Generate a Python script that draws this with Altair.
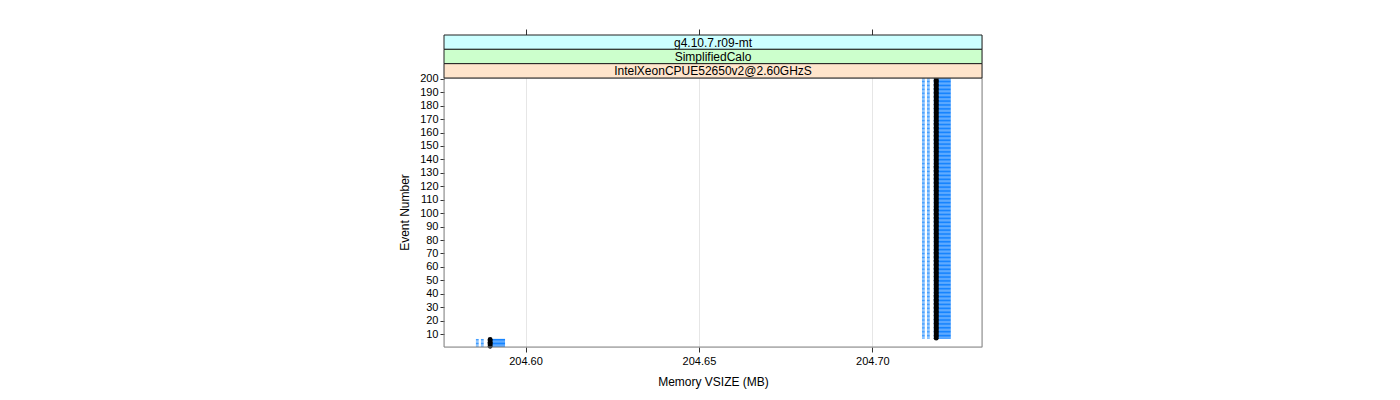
import altair as alt
import pandas as pd

# ---- data ----
strip_labels = ["g4.10.7.r09-mt", "SimplifiedCalo", "IntelXeonCPUE52650v2@2.60GHzS"]
strip_colors = ["#ccffff", "#ccffcc", "#ffe5cc"]

cluster_first_event = [1, 7]
cluster_last_event = [6, 200]
whisker_lo = [204.5857, 204.7143]
whisker_hi = [204.5880, 204.7169]
box_lo = [204.5892, 204.7177]
box_hi = [204.5941, 204.7226]
median = [204.5898, 204.7184]

x_ticks = [204.60, 204.65, 204.70]
y_ticks = list(range(10, 201, 10))

# ---- build table ----
rows = []
for i in range(len(cluster_first_event)):
    for e in range(cluster_first_event[i], cluster_last_event[i] + 1):
        rows.append(dict(event=e, elo=e - 0.45, ehi=e + 0.45,
                         wlo=whisker_lo[i], whi=whisker_hi[i],
                         blo=box_lo[i], bhi=box_hi[i], med=median[i]))
df = pd.DataFrame(rows)

W, H = 538, 312
STRIP_H = 43
FONT = "Liberation Sans"

xs = alt.Scale(domain=[204.5765, 204.7316], nice=False, zero=False)
ys = alt.Scale(domain=[0.4, 232.6], nice=False, zero=False)

x_axis = alt.Axis(values=x_ticks, format=".2f", grid=True, gridColor="#e6e6e6",
                  tickSize=5, tickColor="#333", domain=False, labelFont=FONT,
                  labelFontSize=11, labelColor="black", title="Memory VSIZE (MB)",
                  titleFont=FONT, titleFontSize=12, titleFontWeight="normal",
                  titleColor="black", titlePadding=10, labelPadding=3,
                  labelOverlap=False)
y_axis = alt.Axis(values=y_ticks, tickSize=4, tickColor="#333", domain=False, grid=False,
                  labelFont=FONT, labelFontSize=11, labelColor="black",
                  labelOverlap=False, labelFlush=False,
                  title="Event Number", titleFont=FONT, titleFontSize=12,
                  titleFontWeight="normal", titleColor="black",
                  titleX=-40, titleY=177, titleBaseline="middle", labelPadding=2)

base = alt.Chart(df)

whiskers = base.mark_rule(color="#3d9bff", strokeWidth=1, strokeDash=[2.8, 2.2]).encode(
    x=alt.X("wlo:Q", scale=xs, axis=x_axis),
    x2="whi:Q",
    y=alt.Y("event:Q", scale=ys, axis=y_axis),
)

boxes = base.mark_rect(color="#1684ff", opacity=1).encode(
    x=alt.X("blo:Q", scale=xs, axis=None),
    x2="bhi:Q",
    y=alt.Y("elo:Q", scale=ys, axis=y_axis),
    y2="ehi:Q",
)

medians = base.mark_circle(color="black", size=24, opacity=1).encode(
    x=alt.X("med:Q", scale=xs, axis=None),
    y=alt.Y("event:Q", scale=ys, axis=y_axis),
)

frame = alt.Chart(pd.DataFrame({"a": [0]})).mark_rect(
    fill=None, stroke="#888888", strokeWidth=1
).encode(x=alt.value(0), x2=alt.value(W), y=alt.value(STRIP_H), y2=alt.value(H))

layers = [whiskers, boxes, medians, frame]

sh = STRIP_H / 3.0
for i, (lab, col) in enumerate(zip(strip_labels, strip_colors)):
    d = pd.DataFrame({"label": [lab]})
    r = alt.Chart(d).mark_rect(fill=col, stroke="#222222", strokeWidth=1).encode(
        x=alt.value(0), x2=alt.value(W), y=alt.value(i * sh), y2=alt.value((i + 1) * sh))
    t = alt.Chart(d).mark_text(font=FONT, fontSize=12, color="black", baseline="middle").encode(
        text="label:N", x=alt.value(W / 2), y=alt.value(i * sh + sh / 2 + 0.5))
    layers += [r, t]

top_ticks = alt.Chart(pd.DataFrame({"t": x_ticks})).mark_rule(opacity=0).encode(
    x=alt.X("t:Q", scale=xs, axis=alt.Axis(orient="top", values=x_ticks, labels=False,
                                           ticks=True, tickSize=6, tickColor="#333",
                                           domain=False, grid=False, title=None)),
    y=alt.value(0), y2=alt.value(1),
)
layers.append(top_ticks)

chart = alt.layer(*layers).resolve_axis(x="independent").properties(
    width=W, height=H,
    autosize=alt.AutoSizeParams(type="none"),
    padding={"left": 444, "top": 35, "right": 418, "bottom": 53},
).configure_view(stroke=None).configure(background="white").configure_axisY(
    labelOverlap=False
)

chart.save("out.html", embed_options={"renderer": "svg", "actions": False})
